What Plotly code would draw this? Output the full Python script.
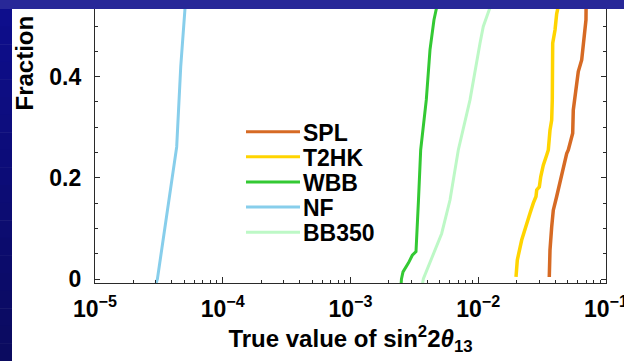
import plotly.graph_objects as go

# ---------------- data ----------------
series_names = ["SPL", "T2HK", "WBB", "NF", "BB350"]
series_colors = ["#D66A24", "#FFD400", "#33C933", "#87CEEB", "#BDF8C6"]

spl_x = [3.598e-2, 3.644e-2, 3.757e-2, 3.868e-2, 4.11e-2, 4.364e-2, 4.632e-2, 4.924e-2,
         5.069e-2, 5.486e-2, 5.546e-2, 5.895e-2, 6.069e-2, 6.452e-2, 6.64e-2, 6.726e-2,
         6.97e-2, 6.99e-2]
spl_y = [0.004, 0.057, 0.103, 0.136, 0.163, 0.192, 0.222, 0.248,
         0.255, 0.288, 0.334, 0.387, 0.41, 0.433, 0.466, 0.486,
         0.512, 0.545]

t2hk_x = [1.975e-2, 2.022e-2, 2.188e-2, 2.323e-2, 2.542e-2, 2.697e-2, 2.832e-2, 2.868e-2,
          3.006e-2, 3.083e-2, 3.230e-2, 3.435e-2, 3.535e-2, 3.644e-2, 3.757e-2, 3.798e-2,
          3.826e-2, 3.99e-2, 4.11e-2, 4.28e-2]
t2hk_y = [0.004, 0.0375, 0.077, 0.10, 0.13, 0.15, 0.163, 0.176,
          0.182, 0.202, 0.225, 0.245, 0.255, 0.294, 0.314, 0.354,
          0.466, 0.492, 0.524, 0.545]

wbb_x = [2.49e-3, 2.506e-3, 2.576e-3, 2.671e-3, 2.845e-3, 3.047e-3, 3.256e-3, 3.405e-3,
         3.543e-3, 3.92e-3, 4.19e-3, 4.50e-3, 4.80e-3]
wbb_y = [-0.01, 0.0, 0.014, 0.02, 0.032, 0.047, 0.054, 0.156,
         0.255, 0.354, 0.453, 0.512, 0.545]

nf_x = [3.0e-5, 3.08e-5, 4.36e-5, 4.69e-5, 5.1e-5]
nf_y = [-0.01, 0.0, 0.261, 0.42, 0.545]

bb350_x = [3.66e-3, 3.715e-3, 5.174e-3, 6.01e-3, 6.98e-3, 8.62e-3, 1.032e-2, 1.095e-2, 1.27e-2]
bb350_y = [-0.01, 0.0, 0.09, 0.156, 0.255, 0.354, 0.466, 0.499, 0.545]

series_x = [spl_x, t2hk_x, wbb_x, nf_x, bb350_x]
series_y = [spl_y, t2hk_y, wbb_y, nf_y, bb350_y]
series_widths = [3.5, 3.5, 3, 3, 3]

x_tick_vals = [1e-5, 1e-4, 1e-3, 1e-2, 1e-1]
x_tick_text = ["10<sup>−5</sup>", "10<sup>−4</sup>", "10<sup>−3</sup>",
               "10<sup>−2</sup>", "10<sup>−1</sup>"]
y_tick_vals = [0, 0.2, 0.4]
y_tick_text = ["0", "0.2", "0.4"]

# ---------------- layout geometry ----------------
W, H = 624, 361
ML, MR, MT, MB = 95, 18, 9, 78
PW, PH = W - ML - MR, H - MT - MB


def px_x(x):
    return (x - ML) / PW


def px_y(y):
    return (H - MB - y) / PH


FONT = "Liberation Sans, Arial, Helvetica, sans-serif"
AX = "#2a2a2a"

fig = go.Figure()
for name, xs, ys, c, w in zip(series_names, series_x, series_y, series_colors, series_widths):
    fig.add_trace(go.Scatter(x=xs, y=ys, mode="lines", name=name,
                             line=dict(color=c, width=w), showlegend=False,
                             hoverinfo="skip"))

minor_x = [k * 10.0 ** e for e in range(-5, -1) for k in range(2, 10)]

fig.update_layout(
    width=W, height=H,
    margin=dict(l=ML, r=MR, t=MT, b=MB, pad=0),
    paper_bgcolor="white", plot_bgcolor="white",
    font=dict(family=FONT, size=23, color="black", weight="bold"),
    xaxis=dict(type="log", range=[-5, -1], tickmode="array",
               tickvals=x_tick_vals, ticktext=x_tick_text, automargin=False,
               ticks="inside", ticklen=6, tickwidth=1, tickcolor=AX,
               showline=True, linecolor=AX, linewidth=1.2, mirror=False,
               showgrid=False, zeroline=False, ticklabeloverflow="allow",
               ticklabelstandoff=5,
               tickfont=dict(family=FONT, size=23, color="black", weight="bold"),
               minor=dict(tickmode="array", tickvals=minor_x, ticks="inside",
                          ticklen=3, tickcolor=AX, showgrid=False),
               title=dict(text="True value of sin<sup>2</sup>2<i>θ</i><sub>13</sub>",
                          font=dict(family=FONT, size=24, color="black", weight="bold"),
                          standoff=9)),
    yaxis=dict(range=[-0.0079, 0.5336], tickmode="array",
               tickvals=y_tick_vals, ticktext=y_tick_text, automargin=False,
               ticks="inside", ticklen=5, tickwidth=1, tickcolor=AX,
               showline=True, linecolor=AX, linewidth=1.2, mirror="ticks",
               showgrid=False, zeroline=False, ticklabelstandoff=8,
               tickfont=dict(family=FONT, size=23, color="black", weight="bold"),
               minor=dict(dtick=0.05, tick0=0, ticks="inside", ticklen=3,
                          tickcolor=AX, showgrid=False)),
)

# manual legend (long line samples)
legend_rows = [131.7, 156.8, 181.9, 207.0, 232.2]
shapes = []
annotations = []
for name, c, yrow in zip(series_names, series_colors, legend_rows):
    shapes.append(dict(type="line", xref="paper", yref="paper",
                       x0=px_x(246), x1=px_x(300), y0=px_y(yrow), y1=px_y(yrow),
                       line=dict(color=c, width=3)))
    annotations.append(dict(xref="paper", yref="paper", x=px_x(301), y=px_y(yrow + 1),
                            xanchor="left", yanchor="middle", showarrow=False,
                            text=name, font=dict(family=FONT, size=23, color="black",
                                                 weight="bold")))

# slide background bands (left gradient strip)
n_steps = 20
for i in range(n_steps):
    y0 = MT + i * (H - MT) / n_steps
    y1 = MT + (i + 1) * (H - MT) / n_steps
    t = i / (n_steps - 1)
    r = int(14 + (11 - 14) * t)
    b = int(140 + (96 - 140) * t)
    shapes.append(dict(type="rect", xref="paper", yref="paper", layer="above",
                       x0=px_x(0), x1=px_x(12), y0=px_y(y1 + 0.5), y1=px_y(y0),
                       fillcolor=f"rgb({r},{r},{b})", line=dict(width=0)))

# y axis title (rotated), partly hidden under the top band
annotations.append(dict(xref="paper", yref="paper", x=px_x(24), y=px_y(113),
                        xanchor="center", yanchor="bottom", textangle=-90,
                        showarrow=False, text="Fraction of",
                        font=dict(family=FONT, size=24, color="black", weight="bold")))
# top band drawn last so it covers the title
annotations.append(dict(xref="paper", yref="paper", x=px_x(0), y=px_y(0),
                        xanchor="left", yanchor="top", showarrow=False, text=" ",
                        width=W, height=MT, bgcolor="rgb(40,40,152)",
                        borderpad=0, borderwidth=0))

fig.update_layout(shapes=shapes, annotations=annotations)
fig.write_html("out.html", config={"displayModeBar": False},
               post_script="document.body.style.margin='0';"
                           "document.body.style.overflow='hidden';")
